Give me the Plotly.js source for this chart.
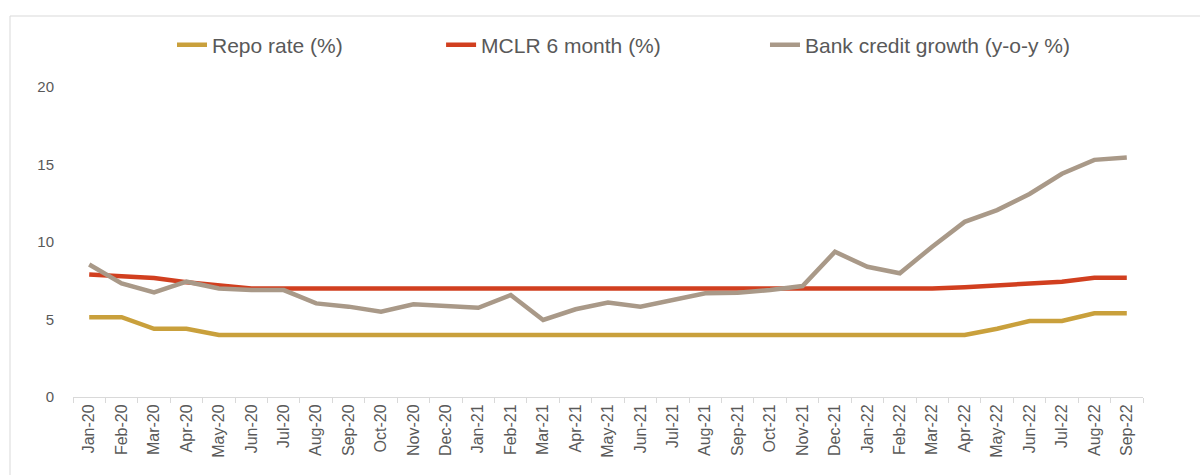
<!DOCTYPE html>
<html>
<head>
<meta charset="utf-8">
<script src="https://cdn.plot.ly/plotly-3.0.1.min.js"></script>
<style>
html,body{margin:0;padding:0;background:#fff;}
#chart{width:1200px;height:475px;}
</style>
</head>
<body>
<div id="chart"></div>
<script>
const months = ["Jan-20","Feb-20","Mar-20","Apr-20","May-20","Jun-20","Jul-20","Aug-20","Sep-20","Oct-20","Nov-20","Dec-20",
"Jan-21","Feb-21","Mar-21","Apr-21","May-21","Jun-21","Jul-21","Aug-21","Sep-21","Oct-21","Nov-21","Dec-21",
"Jan-22","Feb-22","Mar-22","Apr-22","May-22","Jun-22","Jul-22","Aug-22","Sep-22"];
const repoRate = [5.15,5.15,4.4,4.4,4.0,4.0,4.0,4.0,4.0,4.0,4.0,4.0,
4.0,4.0,4.0,4.0,4.0,4.0,4.0,4.0,4.0,4.0,4.0,4.0,
4.0,4.0,4.0,4.0,4.4,4.9,4.9,5.4,5.4];
const mclr6m = [7.9,7.78,7.68,7.4,7.2,7.0,7.0,7.0,7.0,7.0,7.0,7.0,
7.0,7.0,7.0,7.0,7.0,7.0,7.0,7.0,7.0,7.0,7.0,7.0,
7.0,7.0,7.0,7.08,7.18,7.33,7.44,7.7,7.7];
const creditGrowth = [8.55,7.33,6.75,7.44,7.0,6.9,6.9,6.04,5.83,5.5,5.98,5.87,
5.76,6.58,4.97,5.66,6.09,5.83,6.26,6.69,6.73,6.9,7.16,9.37,
8.4,7.98,9.7,11.3,12.06,13.1,14.4,15.3,15.45];
const seriesNames = ["Repo rate (%)","MCLR 6 month (%)","Bank credit growth (y-o-y %)"];
const yTicks = [0,5,10,15,20];

const colors = ["#C9A03C","#D13F1F","#A99988"];
const NB = "\u00a0";
const legendPad = [16, 17, 0];
const data = [repoRate, mclr6m, creditGrowth].map((ys,i)=>({
  type:"scatter", mode:"lines", x:months, y:ys,
  name: seriesNames[i] + NB.repeat(legendPad[i]),
  line:{color:colors[i], width:4.5, shape:"linear"}
}));

const layout = {
  width:1200, height:475,
  margin:{l:73, r:57, t:87, b:78},
  paper_bgcolor:"#fff", plot_bgcolor:"#fff",
  font:{family:"Liberation Sans, Arial, sans-serif", color:"#595959"},
  showlegend:true,
  legend:{orientation:"h", x:(172-73)/1070, xanchor:"left", y:1.135, yanchor:"middle",
    font:{size:21, color:"#595959"}, bgcolor:"rgba(0,0,0,0)", traceorder:"normal"},
  xaxis:{type:"category", range:[-0.5,32.5], showgrid:false, zeroline:false,
    showline:true, linecolor:"#d9d9d9", linewidth:1,
    ticks:"outside", ticklen:5, tickcolor:"#d9d9d9", tickson:"boundaries",
    tickangle:-90, tickfont:{size:16, color:"#595959"}, fixedrange:true},
  yaxis:{range:[0,20], tickvals:yTicks, showgrid:false, zeroline:false, showline:false,
    ticks:"", ticklabelstandoff:18, tickfont:{size:15, color:"#595959"}, fixedrange:true},
  shapes:[{type:"rect", xref:"paper", yref:"paper",
    x0:(10-73)/1070, x1:(1210-73)/1070, y0:-(490-397)/310, y1:1+(87-16)/310,
    line:{color:"#d9d9d9", width:1}, fillcolor:"rgba(0,0,0,0)", layer:"below"}]
};
Plotly.newPlot("chart", data, layout, {displayModeBar:false, staticPlot:true});
</script>
</body>
</html>
